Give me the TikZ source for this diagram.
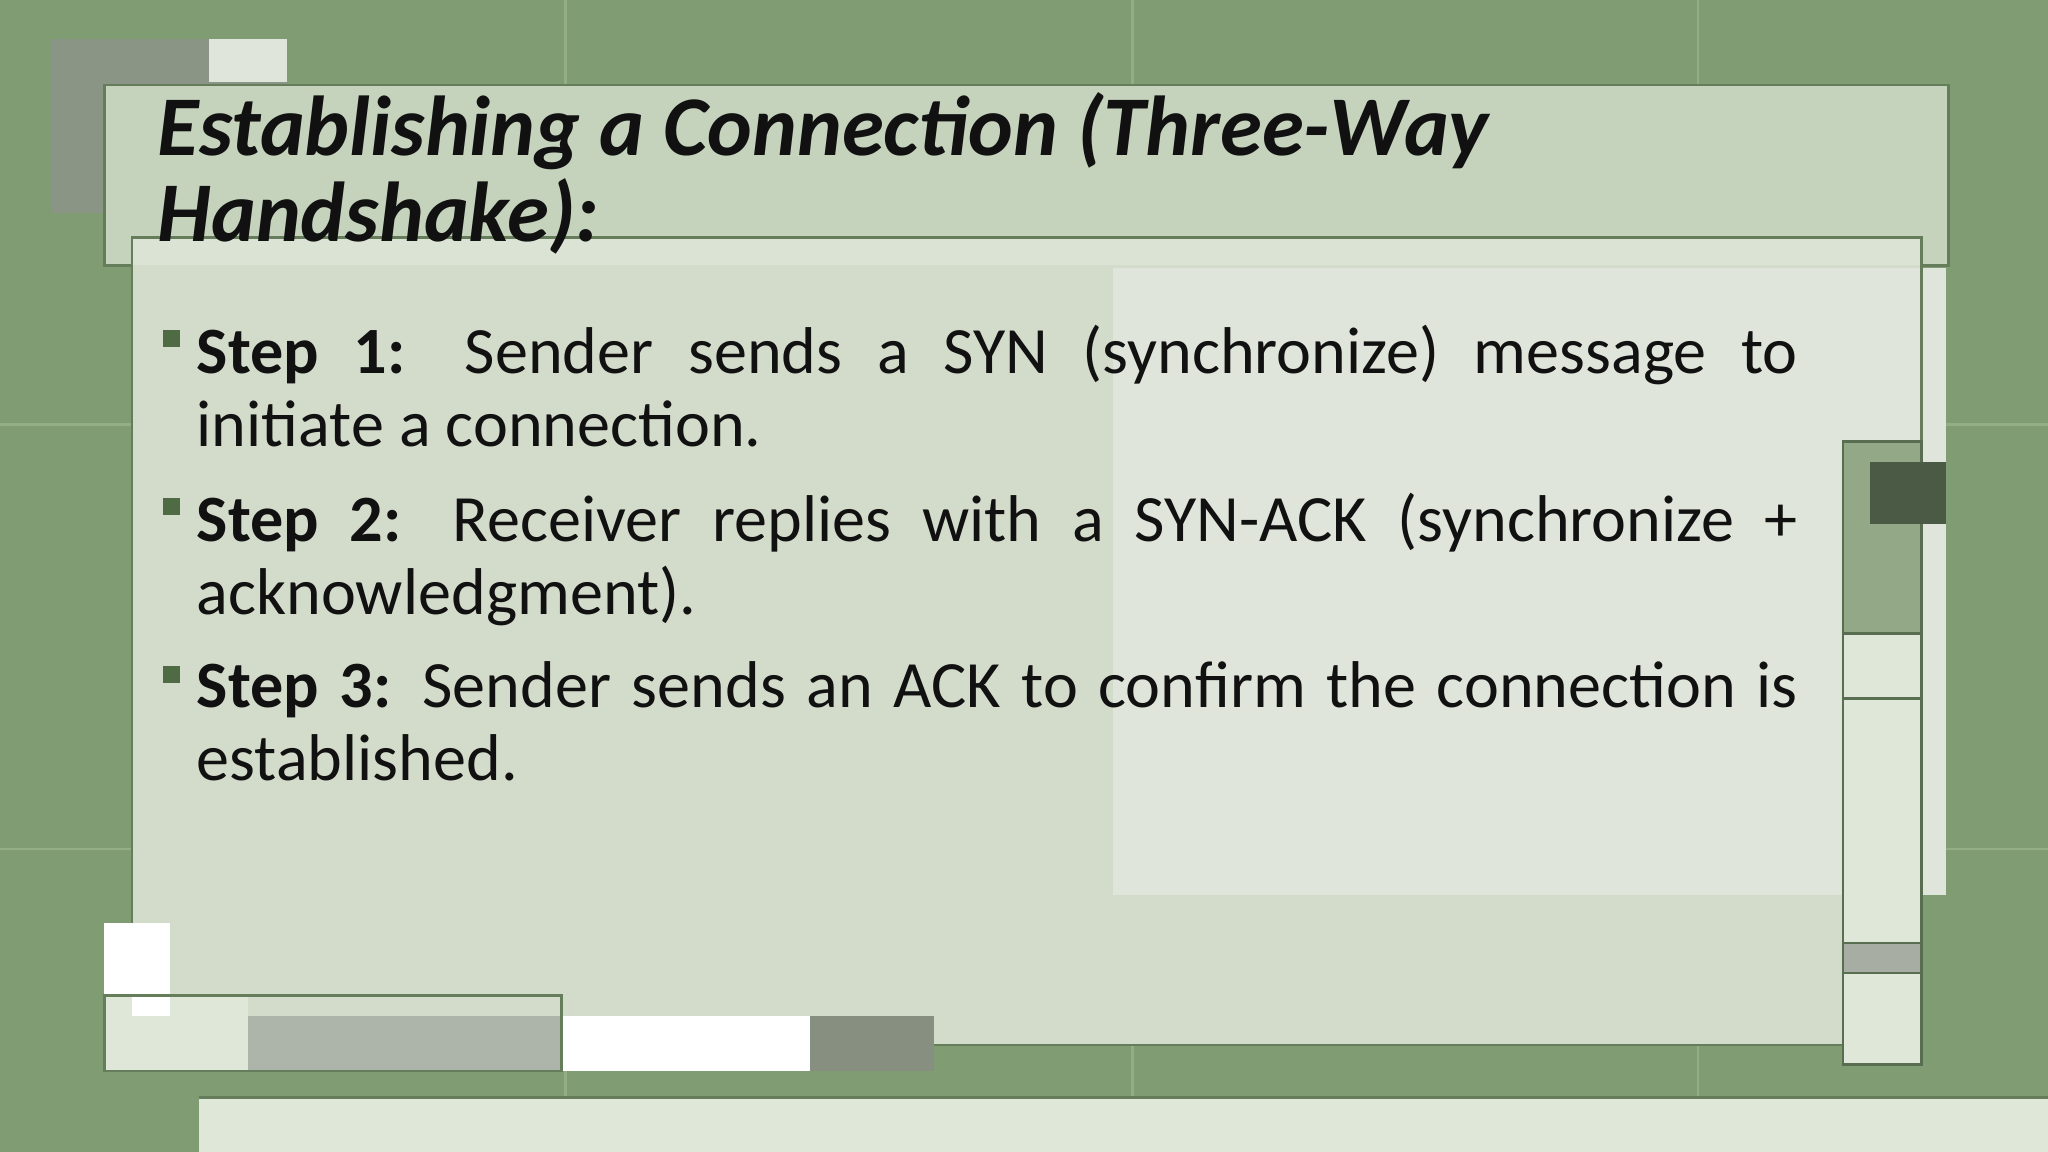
\documentclass[tikz,border=0pt]{standalone}
\usepackage{fontspec}
\setmainfont{Carlito}
\definecolor{bg}{HTML}{7F9C72}
\definecolor{band}{HTML}{C5D3BD}
\definecolor{panel}{HTML}{D3DCCB}
\definecolor{lite}{HTML}{DFE5DA}
\definecolor{grid}{HTML}{93AE86}
\definecolor{bul}{HTML}{4F6B43}
\definecolor{dark}{HTML}{4A5A45}
\definecolor{strip}{HTML}{93A886}
\definecolor{pale}{HTML}{DFE8D8}
\definecolor{greyb}{HTML}{A8ADA4}
\definecolor{greyc}{HTML}{868F80}
\definecolor{photo}{HTML}{8A9585}
\definecolor{txt}{HTML}{111111}
\tikzset{
 bodytxt/.style={anchor=north west,text width=12.25cm,align=justify,inner sep=0pt,font=\fontsize{14.4}{15.9}\selectfont,text=txt},
 bulsq/.style={fill=bul},
}
\begin{document}
\begin{tikzpicture}[x=0.01cm,y=-0.01cm]
\useasboundingbox (0,0) rectangle (1568,882);
\fill[bg] (0,0) rectangle (1568,882);
\foreach \x in {433,867,1300} \draw[grid,line width=0.6pt] (\x,0)--(\x,882);
\foreach \y in {325,650} \draw[grid,line width=0.6pt] (0,\y)--(1568,\y);
% photo top-left
\fill[photo] (40,30) rectangle (220,163);
\fill[lite] (160,30) rectangle (220,63);
% title band
\fill[band] (80,65) rectangle (1492,203);
\draw[bg!80!black,line width=0.6pt] (80,65) rectangle (1492,203);
% main panel
\fill[panel] (101,182) rectangle (1471,800);
\fill[lite] (852,205) rectangle (1490,685);
\fill[pale,opacity=0.7] (101,182) rectangle (1471,203);
\draw[bg!80!black,line width=0.6pt] (101,182) rectangle (1471,800);
% right strip
\fill[strip] (1411,338) rectangle (1471,485);
\fill[pale] (1411,485) rectangle (1471,722);
\fill[greyb] (1411,722) rectangle (1471,745);
\fill[pale] (1411,745) rectangle (1471,815);
\draw[bg!70!black,line width=0.6pt] (1411,338) rectangle (1471,815);
\foreach \y in {485,535,722,745} \draw[bg!70!black,line width=0.6pt] (1411,\y)--(1471,\y);
\fill[dark] (1432,354) rectangle (1490,401);
% bottom-left
\fill[white] (80,707) rectangle (130,762);
\fill[pale] (80,762) rectangle (190,820);
\fill[white] (101,762) rectangle (130,778);
\fill[photo!70!white] (190,778) rectangle (430,820);
\fill[white] (430,778) rectangle (620,820);
\fill[greyc] (620,778) rectangle (715,820);
\draw[bg!80!black,line width=0.6pt] (80,762) rectangle (430,820);
% bottom band
\fill[pale] (152,840) rectangle (1568,882);
\draw[bg!80!black,line width=0.6pt] (152,840) -- (1568,840);
% title
\node[anchor=north west,inner sep=0pt,align=left,font=\fontsize{18.5}{18.8}\selectfont\bfseries\itshape,text=txt] (title) at (120,70) {Establishing a Connection (Three-Way\\Handshake):};
% bullets
\fill[bulsq] (125,253) rectangle (138,266);
\fill[bulsq] (125,381) rectangle (138,394);
\fill[bulsq] (125,510) rectangle (138,523);
\node[bodytxt] (s1) at (150,248) {\textbf{Step 1:} Sender sends a SYN (synchronize) message to\linebreak initiate a connection.};
\node[bodytxt] (s2) at (150,377) {\textbf{Step 2:} Receiver replies with a SYN-ACK (synchronize +\linebreak acknowledgment).};
\node[bodytxt] (s3) at (150,506) {\textbf{Step 3:} Sender sends an ACK to confirm the connection is\linebreak established.};
\end{tikzpicture}
\end{document}
